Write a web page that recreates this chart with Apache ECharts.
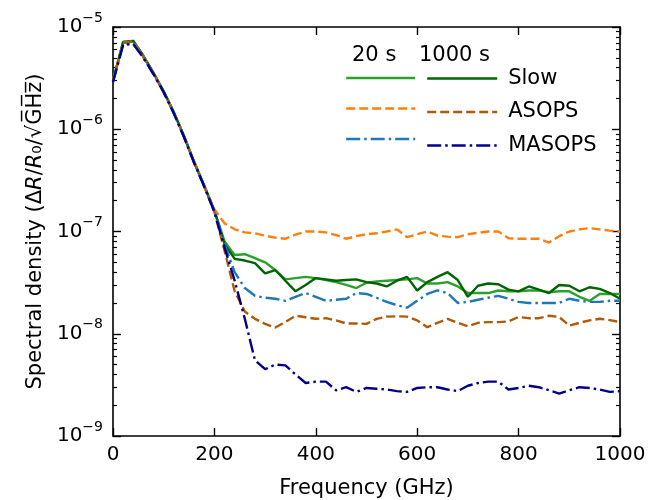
<!DOCTYPE html>
<html><head><meta charset="utf-8">
<script src="https://cdn.jsdelivr.net/npm/echarts@6/dist/echarts.min.js"></script>
<style>html,body{margin:0;padding:0;background:#fff}#c{width:649px;height:500px}</style>
</head><body><div id="c"></div>
<script>
const freq = [0,20,40,60,80,100,120,140,160,180,200,220,240,260,280,300,320,340,360,380,400,420,440,460,480,500,520,540,560,580,600,620,640,660,680,700,720,740,760,780,800,820,840,860,880,900,920,940,960,980,1000];

const slow20 = [3.0e-6,7.2e-6,7.3e-6,5.2e-6,3.55e-6,2.35e-6,1.47e-6,8.6e-7,4.8e-7,2.8e-7,
 1.6e-7,8e-8,5.9e-8,6.0e-8,5.5e-8,5.0e-8,4.2e-8,3.4e-8,3.5e-8,3.6e-8,
 3.5e-8,3.35e-8,3.2e-8,3.0e-8,2.8e-8,3.15e-8,3.25e-8,3.3e-8,3.35e-8,3.4e-8,
 3.5e-8,3.1e-8,3.1e-8,3.2e-8,2.9e-8,2.5e-8,2.5e-8,2.5e-8,2.65e-8,2.6e-8,
 2.6e-8,2.65e-8,2.65e-8,2.55e-8,2.6e-8,2.6e-8,2.3e-8,2.1e-8,2.45e-8,2.45e-8,2.45e-8];
const slow1000 = [3.0e-6,7.1e-6,7.3e-6,5.2e-6,3.55e-6,2.35e-6,1.46e-6,8.6e-7,4.8e-7,2.8e-7,
 1.6e-7,7.5e-8,5.4e-8,5.2e-8,4.9e-8,3.9e-8,4.2e-8,3.3e-8,2.6e-8,3.0e-8,
 3.5e-8,3.4e-8,3.3e-8,3.35e-8,3.4e-8,3.2e-8,3.1e-8,2.9e-8,3.3e-8,3.6e-8,
 2.65e-8,3.2e-8,3.6e-8,4.0e-8,3.35e-8,2.3e-8,2.95e-8,3.1e-8,3.05e-8,2.7e-8,
 2.6e-8,2.9e-8,2.7e-8,2.5e-8,3.0e-8,2.95e-8,2.6e-8,2.85e-8,2.75e-8,2.5e-8,2.2e-8];
const asops20 = [3.0e-6,7.0e-6,7.2e-6,5.1e-6,3.5e-6,2.3e-6,1.45e-6,8.5e-7,4.8e-7,2.8e-7,
 1.65e-7,1.2e-7,1.05e-7,9.8e-8,9.6e-8,9.1e-8,8.7e-8,8.5e-8,9.3e-8,1.0e-7,
 1.0e-7,9.8e-8,9.2e-8,8.5e-8,9.0e-8,9.4e-8,9.6e-8,1.0e-7,1.05e-7,8.8e-8,
 9.4e-8,1.0e-7,9.1e-8,8.9e-8,8.8e-8,9.4e-8,9.7e-8,1.0e-7,1.0e-7,8.6e-8,
 8.5e-8,8.5e-8,8.5e-8,7.8e-8,9.0e-8,1.0e-7,1.05e-7,1.08e-7,1.05e-7,1.02e-7,1.0e-7];
const asops1000 = [3.0e-6,7.0e-6,7.2e-6,5.1e-6,3.5e-6,2.3e-6,1.45e-6,8.5e-7,4.7e-7,2.75e-7,
 1.55e-7,6.5e-8,2.6e-8,1.65e-8,1.4e-8,1.25e-8,1.15e-8,1.3e-8,1.5e-8,1.45e-8,
 1.4e-8,1.42e-8,1.35e-8,1.26e-8,1.26e-8,1.25e-8,1.4e-8,1.47e-8,1.48e-8,1.47e-8,
 1.35e-8,1.16e-8,1.28e-8,1.4e-8,1.28e-8,1.18e-8,1.28e-8,1.3e-8,1.3e-8,1.32e-8,
 1.46e-8,1.42e-8,1.42e-8,1.5e-8,1.46e-8,1.2e-8,1.28e-8,1.35e-8,1.4e-8,1.36e-8,1.3e-8];
const masops20 = [2.9e-6,6.8e-6,6.9e-6,5.0e-6,3.45e-6,2.3e-6,1.43e-6,8.4e-7,4.7e-7,2.75e-7,
 1.6e-7,7.5e-8,4.0e-8,2.8e-8,2.35e-8,2.25e-8,2.2e-8,2.1e-8,2.3e-8,2.5e-8,
 2.3e-8,2.1e-8,2.15e-8,2.2e-8,2.5e-8,2.45e-8,2.25e-8,2.05e-8,1.9e-8,1.8e-8,
 2.1e-8,2.45e-8,2.65e-8,2.5e-8,2.0e-8,2.05e-8,2.15e-8,2.25e-8,2.35e-8,2.2e-8,
 2.05e-8,2.0e-8,2.0e-8,2.0e-8,2.0e-8,2.2e-8,2.1e-8,2.05e-8,2.05e-8,2.1e-8,2.1e-8];
const masops1000 = [2.9e-6,6.7e-6,6.8e-6,5.0e-6,3.45e-6,2.3e-6,1.43e-6,8.4e-7,4.7e-7,2.75e-7,
 1.55e-7,7.0e-8,3.3e-8,1.4e-8,5.5e-9,4.5e-9,5.0e-9,4.9e-9,4.0e-9,3.3e-9,
 3.4e-9,3.4e-9,2.8e-9,3.0e-9,2.7e-9,2.95e-9,2.9e-9,2.85e-9,2.75e-9,2.7e-9,
 2.95e-9,3.0e-9,3.0e-9,2.85e-9,2.75e-9,3.1e-9,3.3e-9,3.4e-9,3.4e-9,2.85e-9,
 2.95e-9,3.1e-9,3.0e-9,2.8e-9,2.6e-9,2.8e-9,3.0e-9,2.95e-9,2.85e-9,2.7e-9,2.75e-9];

const xTicks = [0,200,400,600,800,1000];
const yMin = 1e-9, yMax = 1e-5;
const minorLog = [];
for (let e = -9; e < -5; e++) for (let m = 2; m <= 9; m++) minorLog.push(e + Math.log10(m));

const FONT = 'DejaVu Sans';
const pair = arr => freq.map((f, i) => [f, arr[i]]);

const DASH = [9, 4];
const DASHDOT = [14, 4, 2.5, 4];
const seriesDefs = [
  {name: 'Slow 20 s', data: slow20, color: '#2ca02c', type: 'solid'},
  {name: 'Slow 1000 s', data: slow1000, color: '#006400', type: 'solid'},
  {name: 'ASOPS 20 s', data: asops20, color: '#ff7f0e', type: DASH},
  {name: 'ASOPS 1000 s', data: asops1000, color: '#b35806', type: DASH},
  {name: 'MASOPS 20 s', data: masops20, color: '#1f77b4', type: DASHDOT},
  {name: 'MASOPS 1000 s', data: masops1000, color: '#00008b', type: DASHDOT}
];

const chart = echarts.init(document.getElementById('c'), null, {renderer: 'canvas'});
const axisLineBlack = {show: true, lineStyle: {color: '#000', width: 1.6}};

const option = {
  animation: false,
  backgroundColor: '#fff',
  grid: {left: 113, right: 29, top: 27, bottom: 64, outerBoundsMode: 'none', containLabel: false},
  xAxis: [
    {type: 'value', min: 0, max: 1000, interval: 200, position: 'bottom',
     axisLine: axisLineBlack, splitLine: {show: false},
     axisTick: {inside: true, length: 8, lineStyle: {color: '#000', width: 1.4}},
     axisLabel: {margin: 9, color: '#000', fontFamily: FONT, fontSize: 20,
       customValues: xTicks, formatter: v => String(v)},
     name: 'Frequency (GHz)', nameLocation: 'middle', nameGap: 42,
     nameTextStyle: {fontFamily: FONT, fontSize: 21, color: '#000'}},
    {type: 'value', min: 0, max: 1000, interval: 200, position: 'top',
     axisLine: axisLineBlack, splitLine: {show: false},
     axisTick: {inside: true, length: 8, lineStyle: {color: '#000', width: 1.4}},
     axisLabel: {show: false}}
  ],
  yAxis: [
    {type: 'log', logBase: 10, min: yMin, max: yMax, position: 'left',
     axisLine: axisLineBlack, splitLine: {show: false},
     axisTick: {inside: true, length: 8, lineStyle: {color: '#000', width: 1.4}},
     axisLabel: {margin: 10, color: '#000', fontFamily: FONT,
       formatter: v => '{b|10}{s|−' + (-Math.round(Math.log10(v))) + '}',
       rich: {
         b: {fontFamily: FONT, fontSize: 20, color: '#000', lineHeight: 32, verticalAlign: 'middle'},
         s: {fontFamily: FONT, fontSize: 14, color: '#000', verticalAlign: 'top'}
       }},
     name: '{n|Spectral density (Δ}{i|R}{n|/}{i|R}{n|₀/√G̅H̅z̅)}',
     nameLocation: 'middle', nameGap: 66,
     nameTextStyle: {rich: {
       n: {fontFamily: FONT, fontSize: 21, color: '#000'},
       i: {fontFamily: FONT, fontSize: 21, fontStyle: 'italic', color: '#000'}
     }}},
    {type: 'value', min: -9, max: -5, position: 'left',
     axisLine: {show: false}, splitLine: {show: false},
     axisTick: {inside: true, length: 4, customValues: minorLog, lineStyle: {color: '#000', width: 1.2}},
     axisLabel: {show: false}},
    {type: 'log', logBase: 10, min: yMin, max: yMax, position: 'right',
     axisLine: axisLineBlack, splitLine: {show: false},
     axisTick: {inside: true, length: 8, lineStyle: {color: '#000', width: 1.4}},
     axisLabel: {show: false}},
    {type: 'value', min: -9, max: -5, position: 'right',
     axisLine: {show: false}, splitLine: {show: false},
     axisTick: {inside: true, length: 4, customValues: minorLog, lineStyle: {color: '#000', width: 1.2}},
     axisLabel: {show: false}}
  ],
  legend: [
    {data: ['Slow 20 s', 'ASOPS 20 s', 'MASOPS 20 s'], orient: 'vertical',
     left: 340, top: 63, itemWidth: 69, itemHeight: 20, itemGap: 12.5,
     selectedMode: false, formatter: () => '', textStyle: {fontSize: 1},
     itemStyle: {opacity: 0}, lineStyle: {width: 2.4}},
    {data: ['Slow 1000 s', 'ASOPS 1000 s', 'MASOPS 1000 s'], orient: 'vertical',
     left: 421, top: 63, itemWidth: 70, itemHeight: 20, itemGap: 12.5,
     selectedMode: false, formatter: n => n.replace(' 1000 s', ''),
     itemStyle: {opacity: 0}, lineStyle: {width: 2.4},
     textStyle: {fontFamily: FONT, fontSize: 21, color: '#000', padding: [0, 0, 0, 6]}}
  ],
  graphic: [
    {type: 'text', left: 352, top: 45, style: {text: '20 s', font: '21px "DejaVu Sans"', fill: '#000'}},
    {type: 'text', left: 419, top: 45, style: {text: '1000 s', font: '21px "DejaVu Sans"', fill: '#000'}}
  ],
  series: seriesDefs.map(s => ({
    name: s.name, type: 'line', xAxisIndex: 0, yAxisIndex: 0,
    data: pair(s.data), symbol: 'none', showSymbol: false,
    lineStyle: {color: s.color, width: 2.4, type: s.type},
    itemStyle: {color: s.color}, emphasis: {disabled: true}
  }))
};
chart.setOption(option);
</script></body></html>
